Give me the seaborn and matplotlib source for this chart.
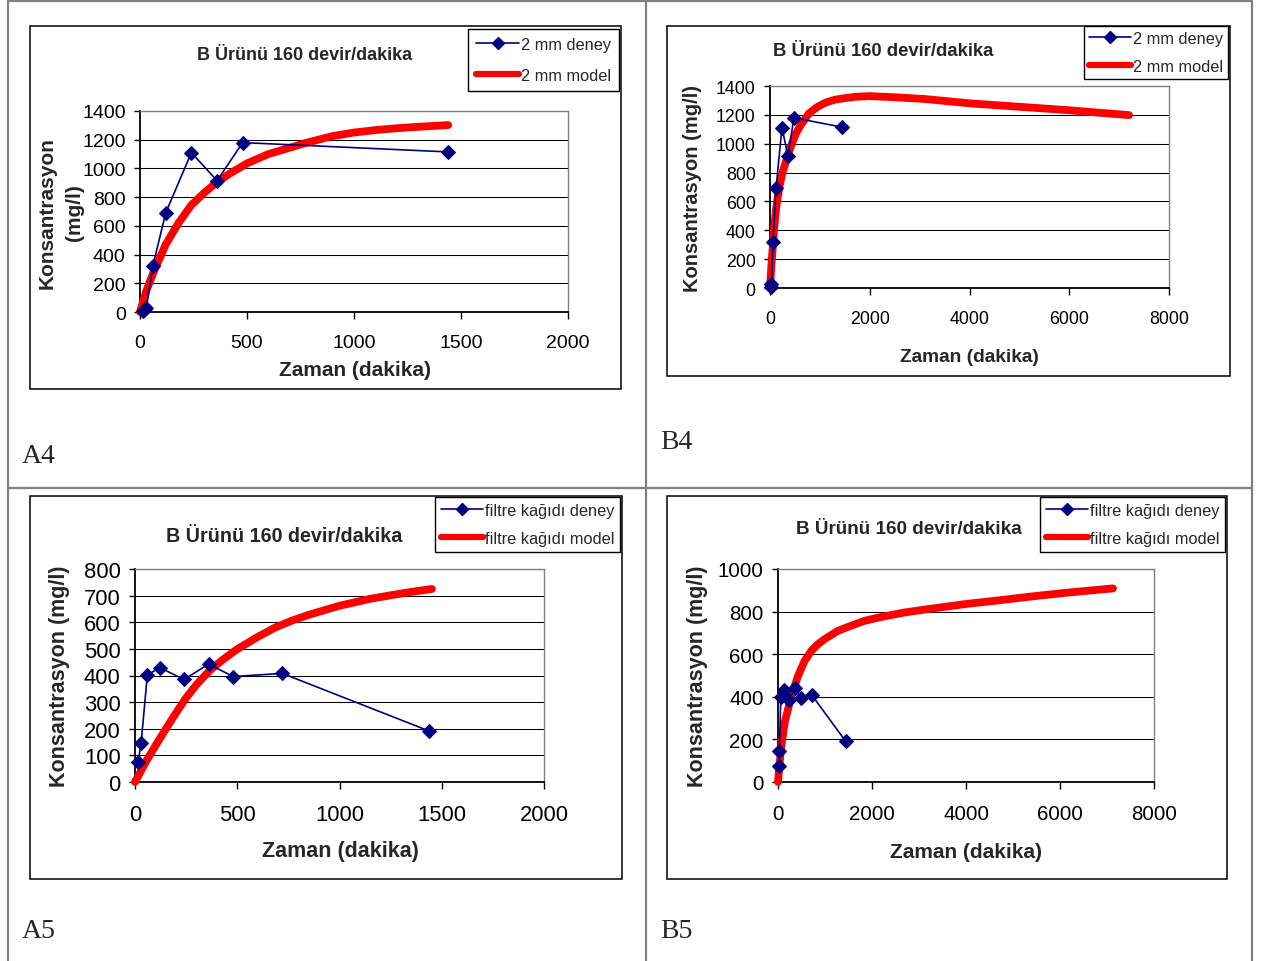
import matplotlib
matplotlib.use("Agg")
import matplotlib.pyplot as plt
from matplotlib.lines import Line2D
from matplotlib.patches import Rectangle
import seaborn as sns
import pandas as pd

sns.set_theme(style="white")
plt.rcParams['font.family'] = ['Liberation Sans', 'DejaVu Sans']

# ---------------- data ----------------
title = "B Ürünü 160 devir/dakika"
xlabel = "Zaman (dakika)"

# 2 mm experiment (A4, B4)
deney_2mm_t = [15, 30, 60, 120, 240, 360, 480, 1440]
deney_2mm_c = [5, 30, 320, 690, 1110, 915, 1180, 1115]

# 2 mm model, short (A4) and long (B4) time ranges
model_A4_t = [0, 30, 60, 120, 180, 240, 300, 360, 420, 500, 600, 780, 900, 1000, 1100, 1200, 1300, 1440]
model_A4_c = [0, 150, 265, 470, 620, 745, 830, 905, 965, 1035, 1100, 1180, 1225, 1250, 1267, 1280, 1290, 1302]
model_B4_t = [0, 25, 50, 80, 113, 150, 200, 250, 313, 380, 447, 520, 600, 780, 950, 1113, 1300,
              1447, 1700, 2000, 2500, 3100, 4000, 6000, 7200]
model_B4_c = [0, 140, 260, 400, 524, 620, 720, 800, 870, 945, 1008, 1070, 1120, 1210, 1255, 1285, 1305,
              1313, 1325, 1330, 1322, 1310, 1280, 1232, 1198]

# filter paper experiment (A5, B5)
deney_filtre_t = [15, 30, 60, 120, 240, 360, 480, 720, 1440]
deney_filtre_c = [75, 145, 401, 430, 385, 443, 396, 408, 191]

# filter paper model
model_A5_t = [0, 30, 60, 114, 180, 245, 300, 364, 430, 500, 600, 685, 767, 850, 1000, 1150, 1256, 1350, 1452]
model_A5_c = [0, 43, 85, 154, 235, 311, 365, 418, 460, 499, 545, 580, 606, 628, 662, 688, 702, 714, 725]
model_B5_t = [0, 35, 71, 142, 284, 426, 567, 709, 851, 993, 1277, 1560, 1844, 2200, 2695, 3300, 3972,
              4700, 5390, 6200, 7128]
model_B5_c = [0, 90, 169, 279, 404, 498, 569, 616, 647, 671, 710, 734, 757, 775, 796, 815, 835,
              853, 871, 890, 909]

W, H = 1263, 962
BLUE = "#000080"
RED = "#FF0000"
GRAY = "#808080"

fig = plt.figure(figsize=(W / 100, H / 100), dpi=100)
fig.patch.set_facecolor("white")


def fx(x):
    return x / W


def fy(y):
    return 1 - y / H


# cell grid lines (gray)
for (x0, y0, x1, y1) in [(8, 2, 8, 962), (1252, 2, 1252, 962), (8, 2, 1252, 2),
                         (8, 489, 1252, 489), (646, 2, 646, 962)]:
    fig.add_artist(Line2D([fx(x0), fx(x1)], [fy(y0), fy(y1)], color=GRAY, lw=1.6,
                          transform=fig.transFigure))

panels = [
    dict(name="A4", frame=(30, 27, 621, 390), plot=(140, 112, 568, 313),
         xmax=2000, xstep=500, ymax=1400, ystep=200,
         dt=deney_2mm_t, dc=deney_2mm_c, mt=model_A4_t, mc=model_A4_c,
         labels=("2 mm deney", "2 mm model"), leg=(467, 30, 619, 91), lsp=0.95, lbp=0.5,
         title_xy=(305, 55), tfs=13, tick_fs=14,
         ylabel="Konsantrasyon\n(mg/l)", ylab_xy=(61, 213), ylfs=15,
         xlab_xy=(355, 371), xlfs=15, lab_xy=(22, 463)),
    dict(name="B4", frame=(667, 27, 1230, 377), plot=(770, 87, 1169, 289),
         xmax=8000, xstep=2000, ymax=1400, ystep=200,
         dt=deney_2mm_t, dc=deney_2mm_c, mt=model_B4_t, mc=model_B4_c,
         labels=("2 mm deney", "2 mm model"), leg=(1090, 27, 1228, 80), lsp=0.78, lbp=0.3,
         title_xy=(883, 52), tfs=13.3, tick_fs=12.8,
         ylabel="Konsantrasyon (mg/l)", ylab_xy=(692, 188), ylfs=14.5,
         xlab_xy=(969, 357), xlfs=13.8, lab_xy=(660, 449)),
    dict(name="A5", frame=(30, 497, 622, 880), plot=(135, 570, 544, 783),
         xmax=2000, xstep=500, ymax=800, ystep=100,
         dt=deney_filtre_t, dc=deney_filtre_c, mt=model_A5_t, mc=model_A5_c,
         labels=("filtre kağıdı deney", "filtre kağıdı model"), leg=(433, 498, 620, 556),
         lsp=0.82, lbp=0.35,
         title_xy=(284, 536), tfs=14.2, tick_fs=15.8,
         ylabel="Konsantrasyon (mg/l)", ylab_xy=(60, 676), ylfs=15.5,
         xlab_xy=(340, 852), xlfs=15.5, lab_xy=(22, 938)),
    dict(name="B5", frame=(667, 497, 1227, 880), plot=(778, 570, 1154, 783),
         xmax=8000, xstep=2000, ymax=1000, ystep=200,
         dt=deney_filtre_t, dc=deney_filtre_c, mt=model_B5_t, mc=model_B5_c,
         labels=("filtre kağıdı deney", "filtre kağıdı model"), leg=(1048, 498, 1225, 556),
         lsp=0.82, lbp=0.35,
         title_xy=(909, 529), tfs=13.6, tick_fs=14.8,
         ylabel="Konsantrasyon (mg/l)", ylab_xy=(697, 676), ylfs=15.5,
         xlab_xy=(966, 852), xlfs=15, lab_xy=(660, 938)),
]

for p in panels:
    # chart frame
    x0, y0, x1, y1 = p["frame"]
    fig.add_artist(Rectangle((fx(x0), fy(y1)), (x1 - x0) / W, (y1 - y0) / H,
                             transform=fig.transFigure, fill=False, ec="black", lw=1.1))
    px0, py0, px1, py1 = p["plot"]
    ax = fig.add_axes([fx(px0), fy(py1), (px1 - px0) / W, (py1 - py0) / H])
    ax.set_facecolor("white")

    model_df = pd.DataFrame({"t": p["mt"], "c": p["mc"]})
    deney_df = pd.DataFrame({"t": p["dt"], "c": p["dc"]})
    sns.lineplot(data=model_df, x="t", y="c", ax=ax, color=RED, lw=5.6, sort=False,
                 solid_capstyle="round", solid_joinstyle="round", clip_on=False, zorder=3)
    sns.lineplot(data=deney_df, x="t", y="c", ax=ax, color=BLUE, lw=1.2, sort=False,
                 marker="D", markersize=7, markeredgecolor=BLUE, markerfacecolor=BLUE,
                 clip_on=False, zorder=4)

    ax.set_xlim(0, p["xmax"])
    ax.set_ylim(0, p["ymax"])
    ax.set_xticks(range(0, p["xmax"] + 1, p["xstep"]))
    ax.set_yticks(range(0, p["ymax"] + 1, p["ystep"]))
    ax.set_xlabel("")
    ax.set_ylabel("")
    ax.yaxis.grid(True, color="black", lw=0.75)
    ax.xaxis.grid(False)
    ax.set_axisbelow(True)
    for s in ["left", "bottom"]:
        ax.spines[s].set_color("black")
        ax.spines[s].set_linewidth(1.3)
        ax.spines[s].set_visible(True)
    for s in ["top", "right"]:
        ax.spines[s].set_color(GRAY)
        ax.spines[s].set_linewidth(1.0)
        ax.spines[s].set_visible(True)
    ax.tick_params(axis="x", direction="out", length=5, width=1, color="black",
                   pad=11, labelsize=p["tick_fs"], labelcolor="black", bottom=True)
    ax.tick_params(axis="y", direction="out", length=4.3, width=1, color="black",
                   pad=6, labelsize=p["tick_fs"], labelcolor="black", left=True)

    # legend
    lx0, ly0, lx1, ly1 = p["leg"]
    handles = [Line2D([], [], color=BLUE, lw=1.2, marker="D", markersize=6,
                      markerfacecolor=BLUE, markeredgecolor=BLUE),
               Line2D([], [], color=RED, lw=4.5)]
    leg = ax.legend(handles, p["labels"], loc="upper right",
                    bbox_to_anchor=(fx(lx1), fy(ly0)), bbox_transform=fig.transFigure,
                    frameon=True, fancybox=False, framealpha=1, edgecolor="black",
                    fontsize=11.8, handlelength=2.6, handletextpad=0.1,
                    borderpad=p["lbp"], labelspacing=p["lsp"], borderaxespad=0)
    leg.get_frame().set_linewidth(1.0)

    # texts
    fig.text(fx(p["title_xy"][0]), fy(p["title_xy"][1]), title, ha="center", va="center",
             fontsize=p["tfs"], fontweight="bold")
    fig.text(fx(p["xlab_xy"][0]), fy(p["xlab_xy"][1]), xlabel, ha="center", va="center",
             fontsize=p["xlfs"], fontweight="bold")
    fig.text(fx(p["ylab_xy"][0]), fy(p["ylab_xy"][1]), p["ylabel"], ha="center", va="center",
             rotation=90, fontsize=p["ylfs"], fontweight="bold", linespacing=1.6,
             multialignment="center")
    fig.text(fx(p["lab_xy"][0]), fy(p["lab_xy"][1]), p["name"], ha="left", va="baseline",
             fontsize=20, family="Liberation Serif")

fig.savefig("out.png", dpi=100, facecolor="white")
